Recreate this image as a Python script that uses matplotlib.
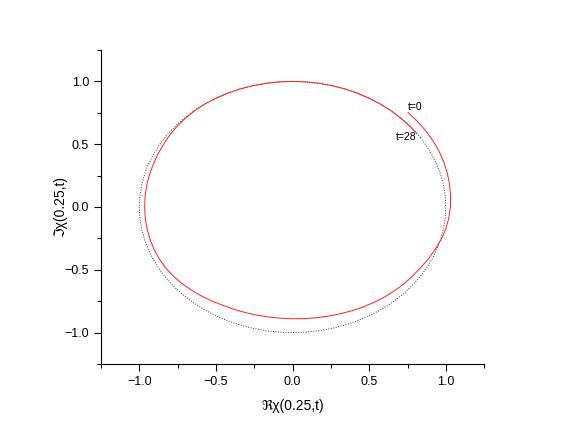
import numpy as np
import matplotlib
matplotlib.use('Agg')
import matplotlib.pyplot as plt
from matplotlib.ticker import MultipleLocator

plt.rcParams['font.family'] = ['Liberation Sans', 'DejaVu Sans']

#----------------------- donnees ----------------------------------------------
# chi(0.25,t) : phase (degres, de t=0 a t=28) et module lu sur la courbe rouge
phase_red = list(range(45, -321, -5)) + [-324]
mod_red = [1.065, 1.062, 1.06, 1.057, 1.054, 1.05, 1.045, 1.04, 1.035, 1.03,
           1.023, 1.015, 1.003, 0.99, 0.977, 0.965, 0.957, 0.95, 0.942, 0.935,
           0.927, 0.92, 0.912, 0.905, 0.9, 0.895, 0.892, 0.89, 0.889, 0.89,
           0.892, 0.895, 0.9, 0.905, 0.915, 0.925, 0.935, 0.945, 0.953, 0.96,
           0.963, 0.965, 0.965, 0.965, 0.965, 0.965, 0.966, 0.967, 0.968, 0.97,
           0.974, 0.978, 0.984, 0.99, 0.994, 0.998, 1.0,
           1.0, 1.0, 1.0, 1.0, 1.0, 1.0, 1.0, 1.0, 1.0, 1.0, 1.0, 1.0, 1.0,
           1.0, 1.0, 1.0, 1.0, 1.0]
# cercle unite (pointilles)
phase_dot = [33.5] + list(range(30, -326, -5)) + [-326.5]
mod_dot = [1.0] * len(phase_dot)

#------------------------------------------------------------------------------
def to_xy(phase, mod):
    p = np.radians(phase)
    m = np.array(mod)
    return m * np.cos(p), m * np.sin(p)

x_red, y_red = to_xy(phase_red, mod_red)
x_dot, y_dot = to_xy(phase_dot, mod_dot)

fig = plt.figure(figsize=(5.61, 4.34), dpi=100)
ax = fig.add_axes([0.180, 0.1613, 0.683, 0.7235])
ax.plot(x_dot, y_dot, color='#333333', lw=0.7, linestyle=(0, (1, 1.6)))
ax.plot(x_red, y_red, color='#ff2020', lw=0.7)

ax.text(0.80, 0.80, 't=0', fontsize=7.5, ha='center', va='center')
ax.text(0.74, 0.557, 't=28', fontsize=7.5, ha='center', va='center')

ax.set_xlim(-1.25, 1.25)
ax.set_ylim(-1.25, 1.25)
ax.xaxis.set_major_locator(MultipleLocator(0.5))
ax.yaxis.set_major_locator(MultipleLocator(0.5))
ax.xaxis.set_minor_locator(MultipleLocator(0.25))
ax.yaxis.set_minor_locator(MultipleLocator(0.25))
ax.tick_params(which='major', direction='out', length=5, width=0.8, labelsize=9)
ax.tick_params(which='minor', direction='out', length=3, width=0.8)
ax.spines['top'].set_visible(False)
ax.spines['right'].set_visible(False)
ax.set_xlabel('ℜχ(0.25,t)', fontsize=10, labelpad=8)
ax.set_ylabel('ℑχ(0.25,t)', fontsize=10, labelpad=-2)

fig.savefig('out.png', dpi=100)
